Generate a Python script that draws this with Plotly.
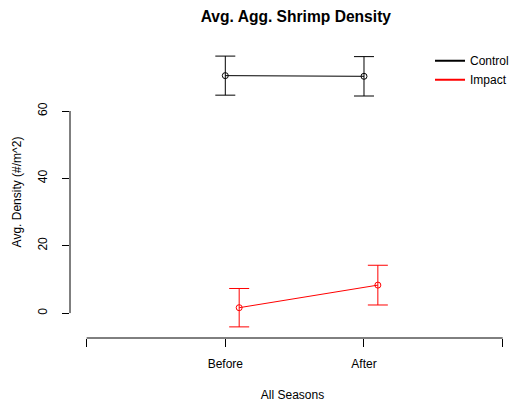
import plotly.graph_objects as go

# Survey periods and per-site mean density with standard error
periods = ["Before", "After"]
period_pos = [1, 2]
axis_ticks = [0, 1, 2, 3]
axis_ticklabels = ["", "Before", "After", ""]
y_ticks = [0, 20, 40, 60]

control_mean = [70.5, 70.3]
control_err = [5.8, 5.85]
impact_mean = [1.6, 8.3]
impact_err = [5.7, 5.9]
impact_offset = 0.1

FONT = "Liberation Sans, Arial, Helvetica, sans-serif"

fig = go.Figure()

def add_site(name, xs, means, errs, color):
    fig.add_trace(go.Scatter(
        x=xs, y=means, mode="lines+markers", name=name, showlegend=False,
        line=dict(color=color, width=1),
        marker=dict(symbol="circle-open", size=6, color=color, line=dict(width=1, color=color)),
        error_y=dict(type="data", array=errs, visible=True, color=color, thickness=1, width=10),
    ))
    # legend entry: plain line
    fig.add_trace(go.Scatter(
        x=[None], y=[None], mode="lines", name=name,
        line=dict(color=color, width=2),
    ))

add_site("Control", period_pos, control_mean, control_err, "black")
add_site("Impact", [p + impact_offset for p in period_pos], impact_mean, impact_err, "#FF0000")

# axis lines spanning first to last tick only
fig.add_shape(type="line", xref="x", yref="paper",
              x0=axis_ticks[0], x1=axis_ticks[-1], y0=0, y1=0,
              line=dict(color="black", width=1))
fig.add_shape(type="line", xref="paper", yref="y",
              x0=0, x1=0, y0=y_ticks[0], y1=y_ticks[-1],
              line=dict(color="black", width=1))

fig.update_layout(
    width=515, height=404,
    margin=dict(l=70, r=0, t=45.5, b=65.7, autoexpand=False),
    paper_bgcolor="white", plot_bgcolor="white",
    font=dict(family=FONT, size=12, color="black"),
    title=dict(text="<b>Avg. Agg. Shrimp Density</b>", xref="paper", x=0.5075, xanchor="center",
               y=1 - 16.5 / 404, yanchor="middle", font=dict(size=15.6, family=FONT)),
    xaxis=dict(range=[-0.12, 3.089], tickvals=axis_ticks, ticktext=axis_ticklabels,
               ticks="outside", ticklen=8, tickcolor="black", tickwidth=1,
               showgrid=False, zeroline=False, showline=False,
               ticklabelstandoff=7,
               title=dict(text="All Seasons", standoff=20, font=dict(size=12))),
    yaxis=dict(range=[-7.4, 79.3], tickvals=y_ticks, tickangle=-90,
               ticks="outside", ticklen=7, tickcolor="black", tickwidth=1,
               showgrid=False, zeroline=False, showline=False,
               ticklabelstandoff=10,
               title=dict(text="Avg. Density (#/m^2)", standoff=12, font=dict(size=12))),
    legend=dict(x=0.809, xanchor="left", y=0.999, yanchor="top",
                bgcolor="rgba(0,0,0,0)", font=dict(size=12),
                tracegroupgap=0, itemwidth=30),
)

fig.write_html("out.html")
